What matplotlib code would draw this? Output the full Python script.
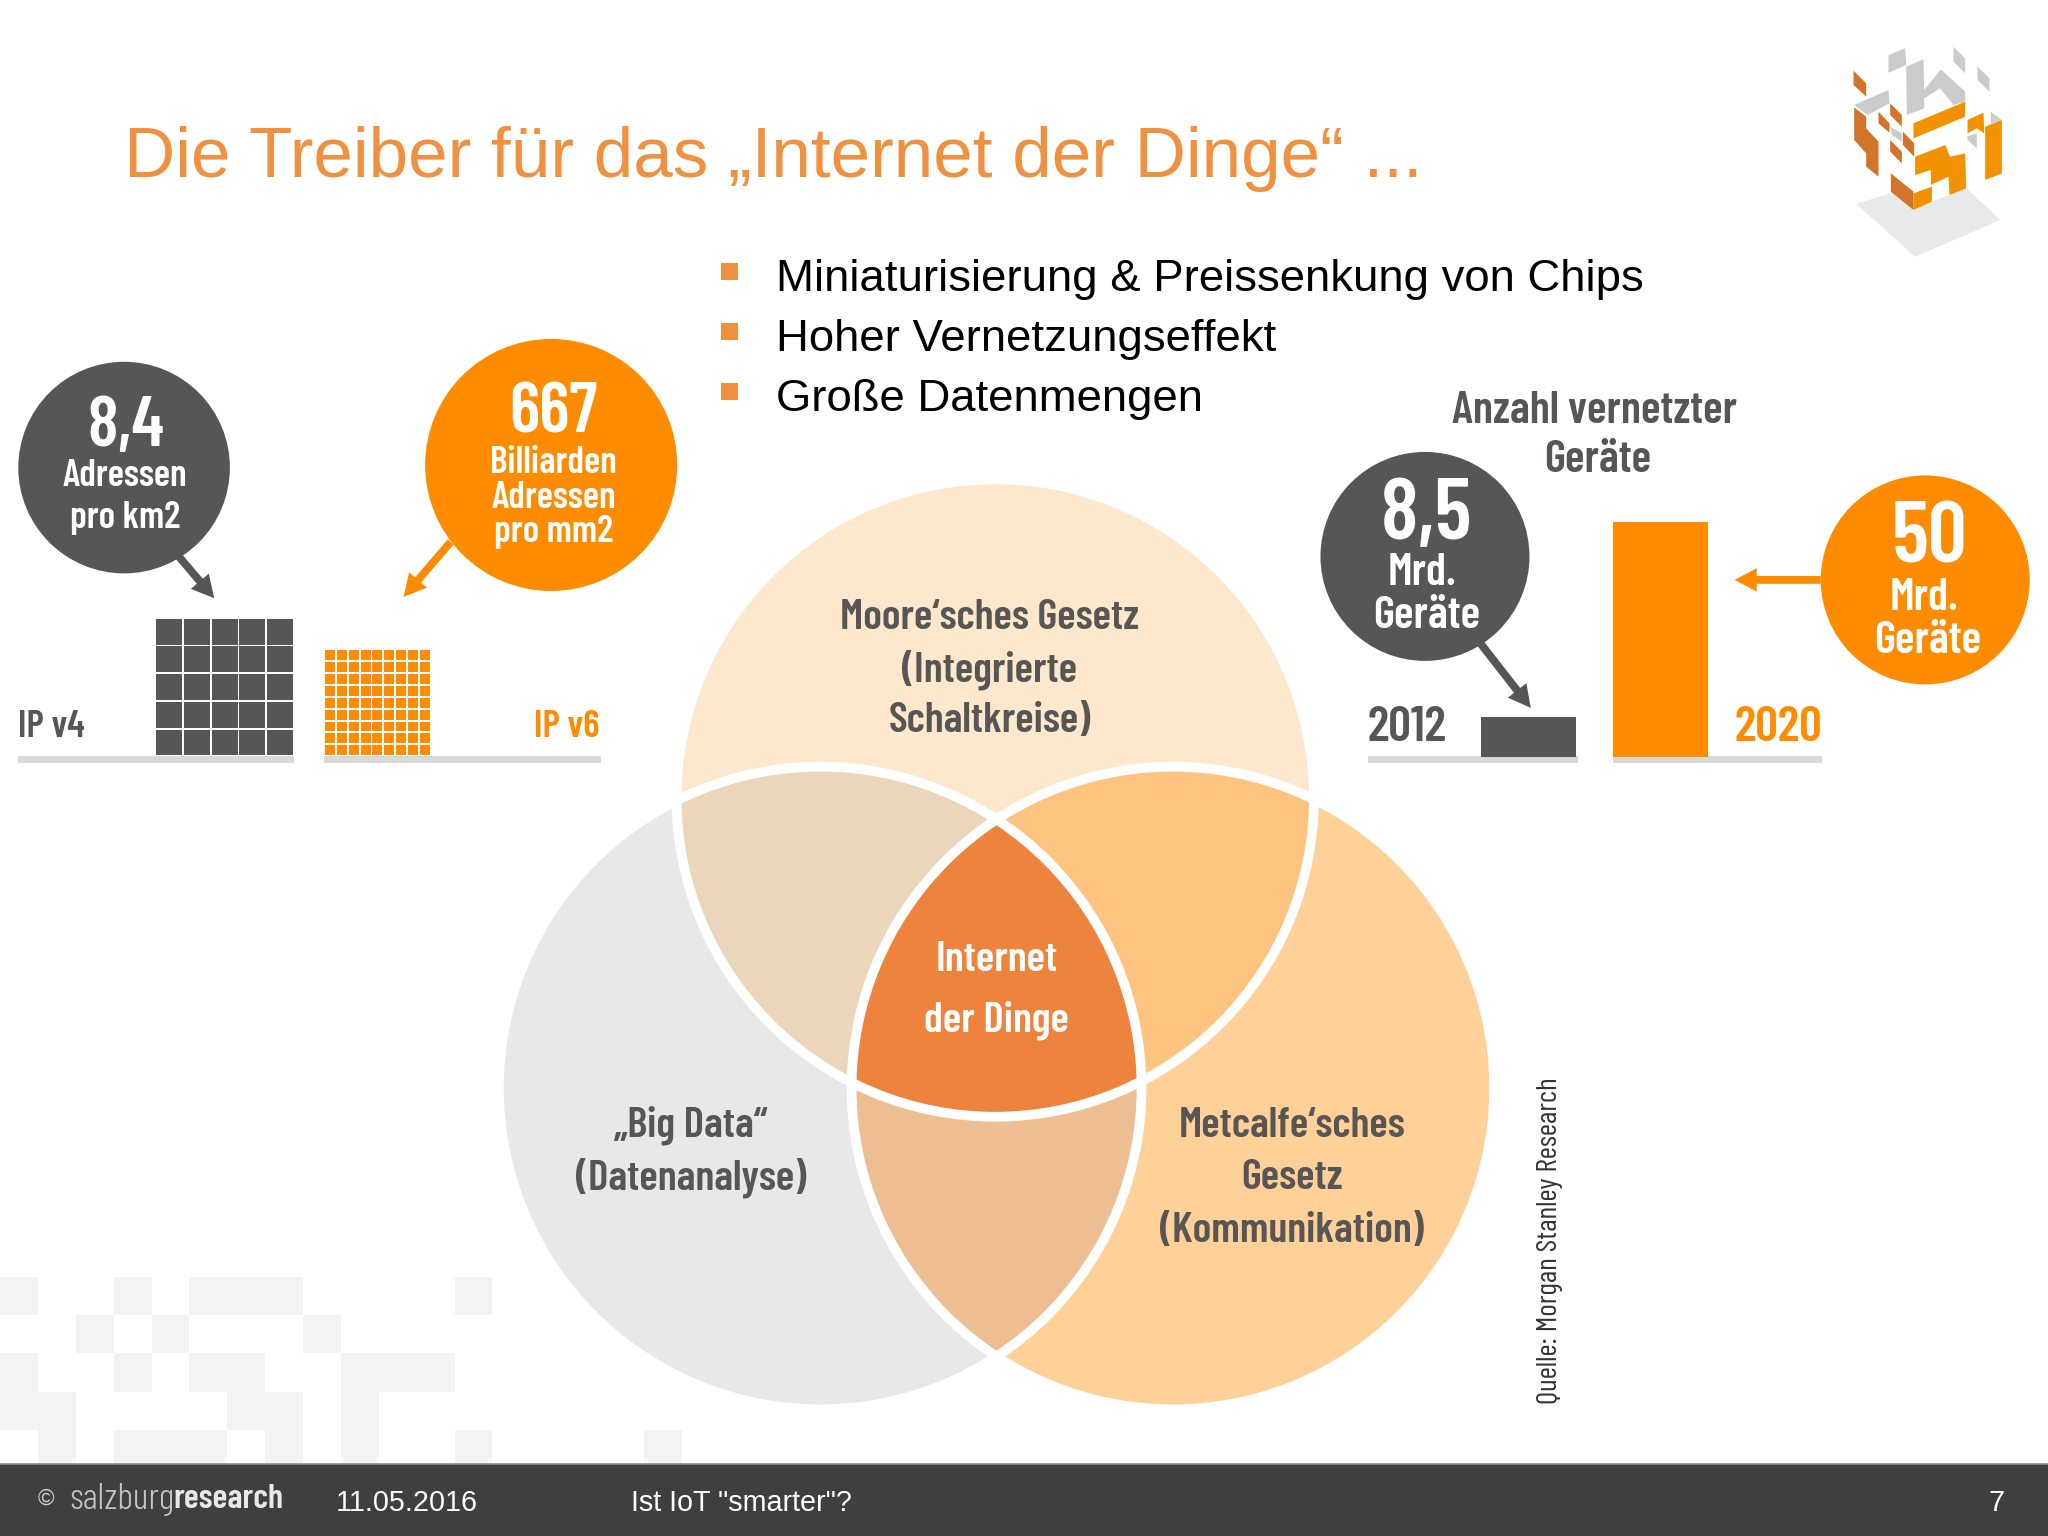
import numpy as np
import matplotlib
matplotlib.use("Agg")
import matplotlib.pyplot as plt
from matplotlib.patches import Circle, Rectangle, Polygon, FancyArrow

ORANGE = "#FF8C00"
DARK = "#575655"
TITLE_ORANGE = "#F0913F"
NARROW = ["Barlow Condensed", "Roboto Condensed", "Liberation Sans", "DejaVu Sans"]
SANS = ["Liberation Sans", "DejaVu Sans"]

# slide content
title = "Die Treiber für das „Internet der Dinge“ ..."
bullets = ["Miniaturisierung & Preissenkung von Chips", "Hoher Vernetzungseffekt", "Große Datenmengen"]

years = ["2012", "2020"]
devices = [8.5, 50]
device_colors = [DARK, ORANGE]

ipv4_cells = 5
ipv6_cells = 9

# background squares: row, first column, last column
pattern_rows = [978, 1007, 1036, 1066, 1095, 1121]
pattern_cells = [
    (0, 0, 1), (0, 3, 4), (0, 5, 8), (0, 12, 13),
    (1, 2, 3), (1, 4, 5), (1, 8, 9),
    (2, 0, 1), (2, 3, 4), (2, 5, 7), (2, 9, 12),
    (3, 0, 2), (3, 6, 8), (3, 9, 10),
    (4, 1, 2), (4, 3, 6), (4, 7, 8), (4, 9, 10), (4, 12, 13), (4, 17, 18),
]

fig = plt.figure(figsize=(20.48, 15.36), dpi=100, facecolor="white")
ax = fig.add_axes([0, 0, 1, 1])


def txt(x, y, s, size, color=DARK, family=NARROW, weight=600, ha="center", **kw):
    # size is in px of the 1568 wide layout, the narrow font sits a bit high
    if family is NARROW:
        y = y + size * 0.085
    return ax.text(x, y, s, fontsize=size * 1.306 * 0.72, color=color, family=family,
                   weight=weight, ha=ha, va="center", **kw)


def arrow(x0, y0, x1, y1, color, w=6, hw=18, hl=17):
    ax.add_patch(FancyArrow(x0, y0, x1 - x0, y1 - y0, width=w, head_width=hw, head_length=hl,
                            length_includes_head=True, color=color, lw=0, zorder=3))


def region(*circles):
    # intersection of circles as a convex polygon
    pts = []
    for cx, cy, r in circles:
        a = np.linspace(0, 2 * np.pi, 1440, endpoint=False)
        p = np.column_stack([cx + r * np.cos(a), cy + r * np.sin(a)])
        for ox, oy, orad in circles:
            p = p[np.hypot(p[:, 0] - ox, p[:, 1] - oy) <= orad + 1e-6]
        pts.append(p)
    pts = np.vstack(pts)
    c = pts.mean(axis=0)
    return pts[np.argsort(np.arctan2(pts[:, 1] - c[1], pts[:, 0] - c[0]))]


# background pattern
for row, c0, c1 in pattern_cells:
    ax.add_patch(Rectangle((c0 * 29, pattern_rows[row]), (c1 - c0) * 29,
                           pattern_rows[row + 1] - pattern_rows[row], color="#F4F3F4", lw=0))

# footer
ax.add_patch(Rectangle((0, 1121), 1568, 55, color="#403E40", lw=0, zorder=5))
ax.plot([0, 1568], [1121, 1121], color="#8F8E8F", lw=1.2, zorder=5)
footer = dict(zorder=6)
txt(35, 1148, "©", 17, color="#D0D0D0", family=SANS, weight="normal", **footer)
txt(53, 1146, "salzburg", 28.5, color="#C4C4C4", weight=300, ha="left", **footer)
txt(133, 1146, "research", 26.5, color="#E8E8E8", ha="left", **footer)
txt(257, 1151, "11.05.2016", 22, color="white", family=SANS, weight="normal", ha="left", **footer)
txt(483, 1151, "Ist IoT \"smarter\"?", 22, color="white", family=SANS, weight="normal", ha="left", **footer)
txt(1529, 1151, "7", 22, color="white", family=SANS, weight="normal", **footer)

# title and bullets
txt(95, 122, title, 54.4, color=TITLE_ORANGE, family=SANS, weight="normal", ha="left")
for i, b in enumerate(bullets):
    y = 214 + i * 46
    ax.add_patch(Rectangle((552, y - 13), 13, 13, color=TITLE_ORANGE, lw=0))
    txt(594, y, b, 34.8, color="black", family=SANS, weight="normal", ha="left")

# logo in 3x crop coordinates
logo_shadow = "#E9E9EB"
logo_grey = "#CBCBCB"
logo_dark = "#D2752B"
logo_bright = "#F39200"
logo_parts = [
    (logo_shadow, [(228, 552), (345, 515), (400, 570), (455, 545), (505, 525), (560, 505), (660, 600), (405, 710)]),
    (logo_grey, [(325, 105), (375, 85), (378, 135), (325, 158)]),
    (logo_grey, [(520, 80), (555, 115), (555, 160), (520, 125)]),
    (logo_grey, [(592, 140), (628, 175), (628, 215), (592, 180)]),
    (logo_grey, [(378, 140), (430, 118), (432, 210), (482, 148), (555, 215), (555, 245), (520, 255),
                 (480, 205), (432, 235), (432, 265), (380, 285)]),
    (logo_grey, [(222, 255), (325, 210), (328, 250), (262, 285)]),
    (logo_grey, [(330, 320), (365, 340), (365, 365), (335, 345)]),
    (logo_grey, [(562, 348), (590, 340), (590, 385), (562, 360)]),
    (logo_grey, [(632, 275), (665, 300), (632, 312)]),
    (logo_dark, [(220, 152), (258, 190), (258, 230), (220, 195)]),
    (logo_dark, [(222, 262), (258, 290), (258, 325), (295, 365), (295, 470), (258, 440), (258, 400), (222, 360)]),
    (logo_dark, [(295, 275), (328, 310), (328, 338), (295, 310)]),
    (logo_dark, [(330, 250), (365, 285), (365, 320), (330, 285)]),
    (logo_dark, [(330, 360), (365, 395), (365, 430), (330, 395)]),
    (logo_dark, [(368, 335), (402, 370), (402, 410), (368, 375)]),
    (logo_dark, [(332, 460), (400, 515), (400, 570), (332, 515)]),
    (logo_bright, [(400, 310), (555, 245), (555, 290), (400, 355)]),
    (logo_bright, [(562, 300), (610, 278), (612, 340), (590, 325), (562, 340)]),
    (logo_bright, [(615, 320), (665, 300), (665, 460), (615, 480)]),
    (logo_bright, [(405, 410), (495, 375), (510, 410), (555, 400), (558, 505), (508, 525), (505, 470),
                   (452, 495), (452, 450), (405, 465)]),
    (logo_bright, [(400, 520), (455, 500), (455, 545), (400, 570)]),
]
for col, pts in logo_parts:
    pts = np.array(pts, dtype=float)
    xy = np.column_stack([(1780 + pts[:, 0] / 3) / 1.306, (20 + pts[:, 1] / 3) / 1.306])
    ax.add_patch(Polygon(xy, closed=True, color=col, lw=0))

# IP v4 / v6 panel
ax.add_patch(Circle((95, 358), 81, color=DARK, lw=0))
ax.add_patch(Circle((422, 356), 96.5, color=ORANGE, lw=0))
arrow(136, 425, 164, 458, DARK)
arrow(345, 415, 309, 457, ORANGE)
txt(96, 323, "8,4", 54, color="white")
txt(96, 362, "Adressen", 29, color="white")
txt(96, 394, "pro km2", 29, color="white")
txt(424, 313, "667", 54, color="white")
txt(424, 352, "Billiarden", 29, color="white")
txt(424, 379, "Adressen", 29, color="white")
txt(424, 405, "pro mm2", 29, color="white")

for (x0, y0, w, n, col) in [(119, 473, 106, ipv4_cells, DARK), (248, 497, 82, ipv6_cells, ORANGE)]:
    gap = 1.5
    size = w / n
    for i in range(n):
        for j in range(n):
            ax.add_patch(Rectangle((x0 + i * size + gap / 2, y0 + j * size + gap / 2), size - gap, size - gap,
                                   color=col, lw=0))

for x0, x1 in [(14, 225), (248, 460), (1047, 1208), (1235, 1395)]:
    ax.add_patch(Rectangle((x0, 579), x1 - x0, 5.5, color="#D9D8D9", lw=0))
txt(14, 554, "IP v4", 29, ha="left")
txt(459, 554, "IP v6", 29, color=ORANGE, ha="right")

# connected devices panel
ax.bar([1170.5, 1271.5], [-v * 3.6 for v in devices], bottom=579.5, width=73, color=device_colors, lw=0)
txt(1047, 554, years[0], 38.5, ha="left")
txt(1395, 554, years[1], 38.5, color=ORANGE, ha="right")
txt(1221, 312, "Anzahl vernetzter", 35)
txt(1223, 349, "Geräte", 35)
ax.add_patch(Circle((1091, 426), 80, color=DARK, lw=0))
ax.add_patch(Circle((1474, 444), 80, color=ORANGE, lw=0))
arrow(1133, 492, 1172, 542, DARK)
arrow(1394, 444, 1328, 444, ORANGE)
txt(1092, 390, f"{devices[0]:.1f}".replace(".", ","), 66, color="white")
txt(1089, 436, "Mrd.", 35, color="white")
txt(1092, 469, "Geräte", 35, color="white")
txt(1477, 408, f"{devices[1]}", 66, color="white")
txt(1473, 455, "Mrd.", 35, color="white")
txt(1476, 488, "Geräte", 35, color="white")

# venn
top = (762, 611, 244)
left = (628, 833, 246)
right = (898, 833, 246)
for c, col in [(top, "#FDE8CE"), (left, "#E9E8E8"), (right, "#FFD199")]:
    ax.add_patch(Circle(c[:2], c[2], color=col, lw=0, zorder=1))
for cs, col in [((top, left), "#EBD5BB"), ((top, right), "#FEC37F"), ((left, right), "#EDBE92"),
                ((top, left, right), "#EE833D")]:
    ax.add_patch(Polygon(region(*cs), closed=True, color=col, lw=0, zorder=1.5))
for c in (top, left, right):
    ax.add_patch(Circle(c[:2], c[2], fc="none", ec="white", lw=7, zorder=2))

for y, s in [(470, "Moore‘sches Gesetz"), (510, "(Integrierte"), (549, "Schaltkreise)")]:
    txt(758, y, s, 33, zorder=3)
for y, s in [(859, "„Big Data“"), (899, "(Datenanalyse)")]:
    txt(529, y, s, 33, zorder=3)
for y, s in [(859, "Metcalfe‘sches"), (899, "Gesetz"), (940, "(Kommunikation)")]:
    txt(989, y, s, 33, zorder=3)
txt(763, 732, "Internet", 33, color="white", zorder=3)
txt(763, 778, "der Dinge", 33, color="white", zorder=3)

txt(1187, 948, "Quelle: Morgan Stanley Research", 22.8, color="#333333", weight="normal", rotation=90)

ax.set_xlim(0, 1568)
ax.set_ylim(1176, 0)
ax.axis("off")

fig.savefig("out.png", dpi=100, facecolor="white")
